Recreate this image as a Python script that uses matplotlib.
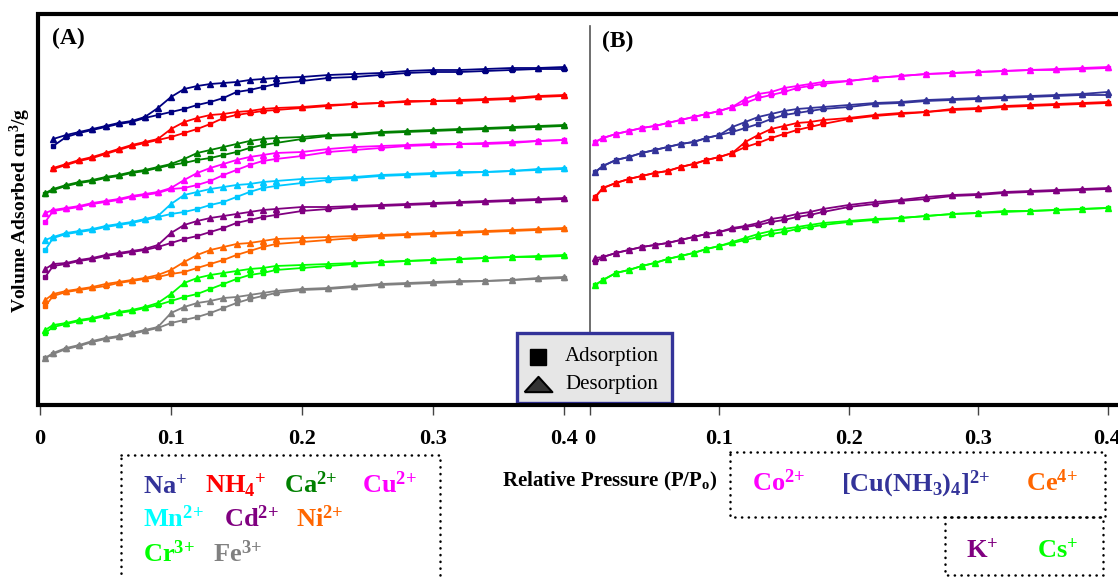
import numpy as np
import matplotlib
matplotlib.use("Agg")
import matplotlib.pyplot as plt
from matplotlib.patches import Rectangle

plt.rcParams["font.family"] = "serif"
plt.rcParams["font.serif"] = ["Liberation Serif", "DejaVu Serif"]
plt.rcParams["mathtext.fontset"] = "custom"
plt.rcParams["mathtext.rm"] = "Liberation Serif:bold"
plt.rcParams["mathtext.bf"] = "Liberation Serif:bold"
plt.rcParams["mathtext.it"] = "Liberation Serif:italic:bold"

W, H = 1118, 579
nan = np.nan

# relative pressure (P/Po) grid shared by every isotherm
P = [0.004, 0.01, 0.02, 0.03, 0.04, 0.05, 0.06, 0.07, 0.08, 0.09,
     0.10, 0.11, 0.12, 0.13, 0.14, 0.15, 0.16, 0.17, 0.18, 0.20,
     0.22, 0.24, 0.26, 0.28, 0.30, 0.32, 0.34, 0.36, 0.38, 0.40]

# ---- panel (A): curves are stacked with an offset, arbitrary units ----
na_ads = [nan, 259, 268, 272, 275, 278, 281, 283, 287, 290, 293, 296, 300, 303, 307,
          313, 315, 318, 321, 324, 327, 328, 330, 332, 333, 333, 334, 335, 336, 336]
na_des = [nan, 266, 270, 273, 276, 279, 282, 284, 288, 297, 308, 316, 319, 321, 322,
          323, 325, 326, 327, 328, 330, 331, 332, 334, 335, 335, 336, 337, 337, 338]
nh4_ads = [nan, 236, 240, 244, 247, 251, 255, 259, 262, 265, 268, 272, 276, 281, 287,
           290, 292, 294, 295, 297, 299, 301, 302, 303, 304, 304, 305, 306, 308, 309]
nh4_des = [nan, 237, 241, 245, 248, 252, 256, 260, 263, 266, 276, 283, 287, 290, 291,
           293, 294, 296, 297, 298, 300, 301, 302, 304, 304, 305, 306, 307, 309, 310]
ca_ads = [211, 215, 219, 222, 224, 227, 229, 232, 234, 237, 240, 242, 245, 247, 250,
          253, 257, 260, 262, 266, 269, 270, 272, 273, 274, 275, 276, 277, 278, 279]
ca_des = [212, 216, 220, 223, 225, 228, 230, 233, 235, 238, 241, 246, 252, 255, 258,
          261, 264, 266, 267, 268, 270, 271, 273, 274, 275, 276, 277, 278, 279, 280]
cu_ads = [183, 194, 196, 198, 201, 203, 205, 208, 210, 212, 216, 217, 220, 224, 230,
          235, 240, 244, 246, 249, 253, 255, 257, 259, 260, 261, 261, 262, 264, 265]
cu_des = [192, 195, 197, 199, 202, 204, 206, 209, 211, 213, 217, 225, 232, 237, 241,
          245, 248, 250, 252, 253, 256, 258, 259, 260, 261, 261, 262, 263, 264, 265]
mn_ads = [155, 167, 171, 173, 175, 178, 180, 182, 185, 188, 191, 193, 196, 200, 203,
          208, 213, 217, 219, 222, 225, 227, 229, 230, 231, 232, 233, 234, 235, 236]
mn_des = [165, 168, 172, 174, 176, 179, 181, 183, 186, 189, 201, 210, 213, 216, 218,
          220, 221, 223, 224, 226, 227, 228, 230, 231, 232, 233, 233, 234, 236, 237]
cd_ads = [128, 139, 141, 144, 146, 149, 151, 153, 155, 158, 162, 166, 169, 173, 177,
          182, 185, 188, 190, 194, 196, 198, 199, 200, 201, 202, 203, 204, 205, 206]
cd_des = [136, 141, 142, 145, 147, 150, 152, 154, 156, 160, 172, 180, 184, 187, 189,
          191, 193, 195, 196, 198, 198, 199, 200, 201, 202, 203, 204, 205, 206, 207]
ni_ads = [99, 109, 113, 115, 117, 119, 122, 124, 126, 128, 131, 133, 137, 141, 145,
          150, 154, 158, 161, 163, 165, 167, 169, 170, 171, 172, 173, 174, 175, 176]
ni_des = [105, 111, 114, 116, 118, 121, 123, 125, 127, 130, 135, 143, 150, 155, 158,
          161, 162, 164, 166, 167, 168, 169, 170, 171, 172, 173, 174, 175, 176, 177]
cr_ads = [72, 78, 81, 84, 86, 89, 92, 94, 97, 100, 104, 108, 111, 116, 121,
          126, 130, 132, 135, 137, 139, 141, 143, 144, 145, 146, 147, 148, 148, 149]
cr_des = [75, 80, 82, 85, 87, 90, 93, 95, 98, 102, 111, 122, 127, 130, 132,
          134, 136, 137, 139, 140, 141, 142, 143, 144, 145, 146, 147, 148, 149, 150]
fe_ads = [47, 51, 56, 59, 63, 66, 68, 71, 74, 77, 82, 85, 88, 92, 97,
          102, 106, 109, 112, 115, 116, 118, 120, 121, 122, 123, 124, 125, 126, 127]
fe_des = [47, 52, 57, 60, 64, 67, 69, 72, 75, 78, 92, 98, 102, 104, 107,
          108, 110, 112, 114, 116, 117, 119, 121, 122, 123, 124, 124, 125, 127, 128]

# ---- panel (B) ----
co_ads = [263, 267, 271, 274, 277, 279, 282, 285, 288, 291, 294, 298, 302, 307, 310,
          313, 317, 319, 321, 324, 327, 329, 331, 332, 333, 334, 335, 335, 336, 337]
co_des = [263, 267, 271, 274, 277, 279, 282, 285, 288, 291, 294, 298, 306, 311, 313,
          317, 319, 321, 323, 324, 327, 329, 331, 332, 333, 334, 335, 336, 337, 338]
cuam_ads = [233, 239, 245, 248, 252, 255, 258, 261, 263, 267, 270, 273, 277, 281, 286,
            290, 292, 294, 296, 298, 301, 302, 304, 305, 306, 307, 308, 309, 310, 310]
cuam_des = [233, 239, 245, 248, 252, 255, 258, 261, 263, 267, 270, 278, 283, 288, 291,
            294, 296, 297, 298, 300, 302, 303, 305, 306, 307, 308, 309, 310, 311, 313]
ce_ads = [208, 217, 222, 226, 229, 232, 234, 238, 241, 245, 248, 252, 258, 262, 267,
          271, 275, 278, 281, 286, 289, 291, 293, 295, 296, 298, 299, 300, 301, 302]
ce_des = [208, 217, 222, 226, 229, 232, 234, 238, 241, 245, 248, 252, 263, 270, 276,
          279, 282, 283, 285, 287, 290, 292, 293, 296, 297, 299, 300, 301, 302, 303]
k_ads = [143, 148, 152, 155, 158, 160, 162, 165, 168, 171, 173, 176, 178, 180, 183,
         185, 188, 190, 193, 198, 201, 204, 206, 209, 210, 212, 213, 214, 215, 216]
k_des = [147, 148, 152, 155, 158, 160, 162, 165, 168, 171, 173, 177, 179, 182, 186,
         188, 191, 193, 196, 200, 203, 205, 208, 210, 211, 213, 214, 215, 216, 217]
cs_ads = [120, 125, 132, 135, 139, 142, 146, 149, 152, 156, 159, 162, 165, 168, 171,
          173, 176, 178, 180, 183, 185, 187, 189, 191, 192, 193, 194, 195, 196, 197]
cs_des = [120, 125, 132, 135, 139, 142, 146, 149, 152, 156, 159, 163, 167, 171, 174,
          176, 178, 180, 182, 184, 186, 187, 189, 191, 192, 194, 194, 195, 196, 197]

series_a = [
    (na_ads, na_des, "#000080"),
    (nh4_ads, nh4_des, "#ff0000"),
    (ca_ads, ca_des, "#008000"),
    (cu_ads, cu_des, "#ff00ff"),
    (mn_ads, mn_des, "#00c8ff"),
    (cd_ads, cd_des, "#800080"),
    (ni_ads, ni_des, "#ff6600"),
    (cr_ads, cr_des, "#00ff00"),
    (fe_ads, fe_des, "#808080"),
]
series_b = [
    (co_ads, co_des, "#ff00ff"),
    (cuam_ads, cuam_des, "#333399"),
    (ce_ads, ce_des, "#ff0000"),
    (k_ads, k_des, "#800080"),
    (cs_ads, cs_des, "#00ff00"),
]

ticks = [0, 0.1, 0.2, 0.3, 0.4]
tick_labels = ["0", "0.1", "0.2", "0.3", "0.4"]

labels_a = [
    ("Na$^{{+}}$", "#333399"), ("NH$_{4}$$^{{+}}$", "#ff0000"),
    ("Ca$^{2{+}}$", "#008000"), ("Cu$^{2{+}}$", "#ff00ff"),
    ("Mn$^{2{+}}$", "#00ffff"), ("Cd$^{2{+}}$", "#800080"), ("Ni$^{2{+}}$", "#ff6600"),
    ("Cr$^{3{+}}$", "#00ff00"), ("Fe$^{3{+}}$", "#808080"),
]
labels_b = [
    ("Co$^{2{+}}$", "#ff00ff"), ("[Cu(NH$_{3}$)$_{4}$]$^{2{+}}$", "#333399"),
    ("Ce$^{4{+}}$", "#ff6600"), ("K$^{{+}}$", "#800080"), ("Cs$^{{+}}$", "#00ff00"),
]


def fx(x):
    return x / W


def fy(y):
    return 1 - y / H


fig = plt.figure(figsize=(W / 100, H / 100), dpi=100)

# overlay in pixel coordinates for the frame, legend and captions
ov = fig.add_axes([0, 0, 1, 1], zorder=10)
ov.set_xlim(0, W)
ov.set_ylim(H, 0)
ov.axis("off")
ov.patch.set_alpha(0)


def make_panel(left, right, series, divider=False):
    ax = fig.add_axes([fx(left), fy(405), fx(right - left), (405 - 14) / H])
    ax.patch.set_alpha(0)
    ax.set_xlim(0, 0.4)
    ax.set_ylim(0, 391)
    for name in ("top", "right", "bottom", "left"):
        ax.spines[name].set_visible(False)
    if divider:
        ax.spines["left"].set_visible(True)
        ax.spines["left"].set_bounds(0, 379)
        ax.spines["left"].set_color("#555555")
        ax.spines["left"].set_linewidth(1.2)
    ax.set_yticks([])
    ax.set_xticks(ticks)
    ax.set_xticklabels(tick_labels, fontsize=16, fontweight="bold")
    ax.tick_params(axis="x", direction="out", length=7, width=1,
                   color="#444444", pad=10)
    for ads, des, color in series:
        ax.plot(P, ads, color=color, lw=1.3, marker="s", ms=3.2, clip_on=False)
        ax.plot(P, des, color=color, lw=1.3, marker="^", ms=3.8, clip_on=False)
    return ax


ax_a = make_panel(40, 564, series_a)
ax_b = make_panel(590, 1107.5, series_b, divider=True)

# outer thick frame (right side is cut off in the original)
ov.plot([36, W + 5], [14, 14], color="black", lw=3, solid_capstyle="butt")
ov.plot([36, W + 5], [405, 405], color="black", lw=3, solid_capstyle="butt")
ov.plot([38, 38], [12, 407], color="black", lw=3, solid_capstyle="butt")

ov.text(52, 38, "(A)", fontsize=17, fontweight="bold", va="center", ha="left")
ov.text(602, 41, "(B)", fontsize=17, fontweight="bold", va="center", ha="left")
ov.text(20, 210, "Volume Adsorbed cm$^{3}$/g", fontsize=14, fontweight="bold",
        rotation=90, va="center", ha="center")
ov.text(502, 481, "Relative Pressure (P/P$_{\\mathrm{o}}$)", fontsize=15,
        fontweight="bold", va="center", ha="left")

# adsorption / desorption key
ov.add_patch(Rectangle((517, 333), 155, 70, facecolor="#e6e6e6",
                       edgecolor="#333399", lw=2.4))
ov.plot(538, 357, marker="s", ms=11, color="black")
tri = [(-1, -0.55), (1, -0.55), (0, 0.55), (-1, -0.55)]
ov.plot(538, 384, marker=tri, ms=20, mfc="#333333", mec="black", mew=1.5)
ov.text(565, 357, "Adsorption", fontsize=15, va="center", ha="left")
ov.text(565, 385, "Desorption", fontsize=15, va="center", ha="left")

# dotted caption boxes
dot = dict(fill=False, edgecolor="black", lw=1.8, linestyle=(0, (0.1, 2.6)),
           capstyle="round")
ov.add_patch(Rectangle((121, 455), 319, 160, **dot))
ov.add_patch(Rectangle((730, 452), 375, 65, **dot))
ov.add_patch(Rectangle((945, 517), 158, 58, **dot))

pos_a = [(143, 493), (205, 493), (284, 493), (362, 493),
         (143, 527), (224, 527), (296, 527),
         (143, 562), (213, 562)]
for (txt, color), (x, y) in zip(labels_a, pos_a):
    ov.text(x, y, txt, color=color, fontsize=19, fontweight="bold",
            va="baseline", ha="left")

pos_b = [(752, 491), (841, 491), (1026, 491), (966, 557), (1037, 557)]
for (txt, color), (x, y) in zip(labels_b, pos_b):
    ov.text(x, y, txt, color=color, fontsize=19, fontweight="bold",
            va="baseline", ha="left")

fig.savefig("out.png", dpi=100, facecolor="white")
